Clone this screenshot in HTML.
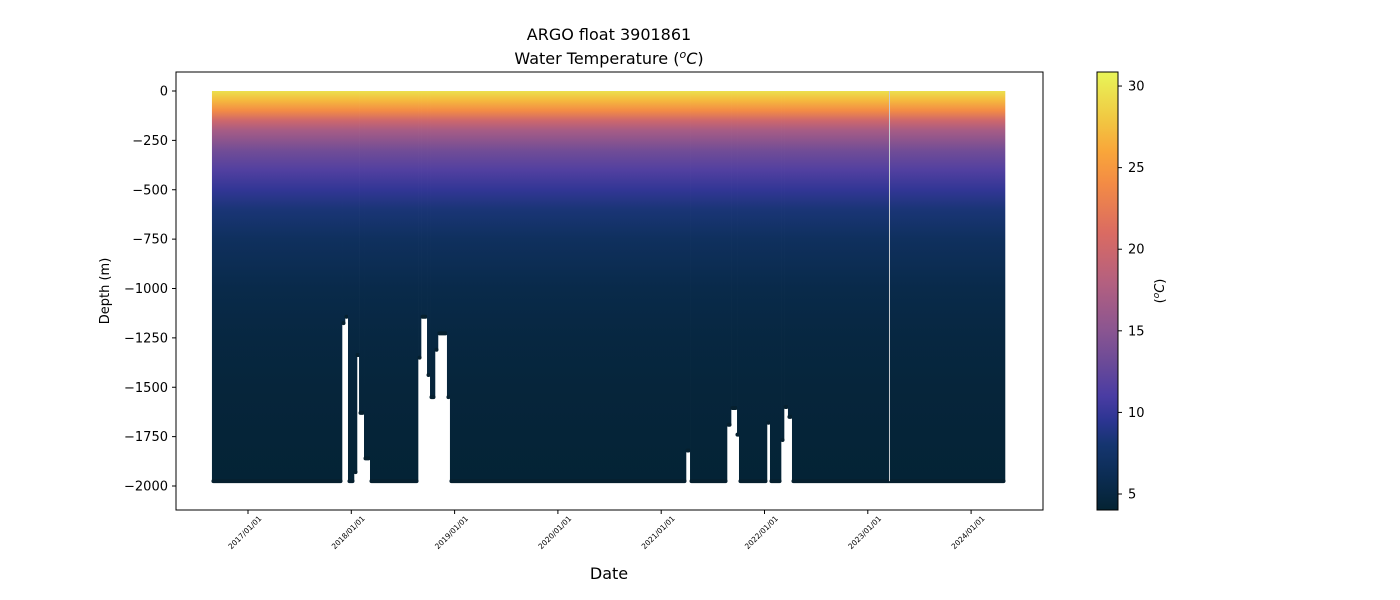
<!DOCTYPE html>
<html><head><meta charset="utf-8">
<style>
body{margin:0;background:#fff;}
svg{display:block;font-family:"DejaVu Sans","Liberation Sans",sans-serif;}
</style></head>
<body>
<svg id="chart" width="1400" height="600" viewBox="0 0 1400 600">
<defs id="defs"></defs>
<text x="609" y="40" text-anchor="middle" font-size="16">ARGO float 3901861</text>
<text x="609" y="64" text-anchor="middle" font-size="16">Water Temperature (<tspan font-style="italic" font-size="11" dy="-6">o</tspan><tspan font-style="italic" dy="6">C</tspan>)</text>
<g id="plot"></g>
<rect x="176" y="72" width="867" height="438" fill="none" stroke="#000" stroke-width="1"/>
<g id="yaxis"></g>
<g id="xaxis"></g>
<text x="609" y="579" text-anchor="middle" font-size="16">Date</text>
<text transform="translate(109,291) rotate(-90)" text-anchor="middle" font-size="13">Depth (m)</text>
<g id="cbar"></g>
<text transform="translate(1164,291) rotate(-90)" text-anchor="middle" font-size="13">(<tspan font-style="italic" font-size="9" dy="-5">o</tspan><tspan font-style="italic" dy="5">C</tspan>)</text>
</svg>
<script>
// ---- data ----
const segStart = [2016.651,2017.910,2017.939,2017.968,2018.026,2018.055,2018.075,2018.123,2018.181,2018.646,2018.675,2018.733,2018.762,2018.810,2018.839,2018.926,2018.955,2021.240,2021.279,2021.637,2021.676,2021.734,2021.753,2022.024,2022.053,2022.160,2022.189,2022.227,2022.266];
const segEnd   = [2017.910,2017.939,2017.968,2018.026,2018.055,2018.075,2018.123,2018.181,2018.646,2018.675,2018.733,2018.762,2018.810,2018.839,2018.926,2018.955,2021.240,2021.279,2021.637,2021.676,2021.734,2021.753,2022.024,2022.053,2022.160,2022.189,2022.227,2022.266,2024.328];
const segMaxDepth = [1975,1175,1143,1975,1930,1337,1630,1860,1975,1350,1143,1438,1550,1310,1227,1550,1975,1820,1975,1690,1605,1740,1975,1680,1975,1767,1600,1650,1975];
const profileDepths = [0,20,50,100,150,200,300,400,500,600,750,1000,1250,1500,2000];
const profileTemps  = [29.5,28.5,27,24,20,17,13.5,11.5,9.8,8.3,6.8,5.5,4.9,4.5,4.1];
const yTicks = [0,-250,-500,-750,-1000,-1250,-1500,-1750,-2000];
const xTickYears = [2017,2018,2019,2020,2021,2022,2023,2024];
const xTickLabels = ["2017/01/01","2018/01/01","2019/01/01","2020/01/01","2021/01/01","2022/01/01","2023/01/01","2024/01/01"];
const cbTicks = [5,10,15,20,25,30];
const dataGapYear = 2023.21;

// ---- scales ----
const NS="http://www.w3.org/2000/svg";
const x = yr => 248 + (yr-2017)*103.3;
const y = d => 91 + d*0.1975;
const cbMin=4.02, cbMax=30.86;
const cy = t => 510 - (t-cbMin)/(cbMax-cbMin)*438;
const cmapT=[4,6,8,9.5,11,13,15,18,21,24,26,28,30.86];
const cmapC=["#042333","#0b2c52","#15356f","#2c3592","#4a3ca3","#6a4a98","#8a5591","#b4607f","#da6b62","#f38b45","#f9a63a","#f1c842","#e8f558"];
function hex(h){return [1,3,5].map(i=>parseInt(h.substr(i,2),16));}
function color(t){
  if(t<=cmapT[0])return cmapC[0];
  for(let i=1;i<cmapT.length;i++){ if(t<=cmapT[i]){const f=(t-cmapT[i-1])/(cmapT[i]-cmapT[i-1]);const a=hex(cmapC[i-1]),b=hex(cmapC[i]);return "rgb("+a.map((v,k)=>Math.round(v+(b[k]-v)*f)).join(",")+")";}}
  return cmapC[cmapC.length-1];
}
function mk(tag,attrs,parent){const e=document.createElementNS(NS,tag);for(const k in attrs)e.setAttribute(k,attrs[k]);parent.appendChild(e);return e;}
const defs=document.getElementById('defs');

const g=mk('linearGradient',{id:'prof',gradientUnits:'userSpaceOnUse',x1:0,x2:0,y1:y(0),y2:y(2000)},defs);
profileDepths.forEach((d,i)=>mk('stop',{offset:d/2000,'stop-color':color(profileTemps[i])},g));
const cg=mk('linearGradient',{id:'cbg',x1:0,x2:0,y1:1,y2:0},defs);
cmapT.forEach((t,i)=>mk('stop',{offset:(t-cbMin)/(cbMax-cbMin),'stop-color':cmapC[i]},cg));

const plot=document.getElementById('plot');
segStart.forEach((s,i)=>{
  const r=mk('rect',{x:x(s),y:y(0),width:Math.max(0.5,x(segEnd[i])-x(s)+0.3),height:y(segMaxDepth[i])-y(0),fill:'url(#prof)'},plot);
  
  
  const c=mk('line',{x1:x(s)+1.5,x2:x(segEnd[i])-1.5,y1:y(segMaxDepth[i]),y2:y(segMaxDepth[i]),stroke:'#06202f','stroke-width':4,'stroke-linecap':'round'},plot);
  
  
});
const gl=mk('line',{x1:x(dataGapYear),x2:x(dataGapYear),y1:y(0),y2:y(1975),stroke:'#c8ccd0','stroke-width':1},plot);



const ya=document.getElementById('yaxis');
yTicks.forEach(v=>{
  const yy=y(-v);
  mk('line',{x1:172,x2:176,y1:yy,y2:yy,stroke:'#000'},ya);
  const t=mk('text',{x:168,y:yy+4.5,'text-anchor':'end','font-size':13},ya);
  t.textContent=String(v).replace('-','\u2212');
  
  
});
const xa=document.getElementById('xaxis');
xTickYears.forEach((yr,i)=>{
  const xx=x(yr);
  mk('line',{x1:xx,x2:xx,y1:510,y2:514,stroke:'#000'},xa);
  const t=mk('text',{transform:`translate(${xx+14},${519}) rotate(-45)`,'text-anchor':'end','font-size':7.5},xa);
  t.textContent=xTickLabels[i];
  
  
});
const cb=document.getElementById('cbar');
mk('rect',{x:1097,y:72,width:21,height:438,fill:'url(#cbg)',stroke:'#000','stroke-width':1},cb);
cbTicks.forEach(v=>{
  const yy=cy(v);
  mk('line',{x1:1118,x2:1122,y1:yy,y2:yy,stroke:'#000'},cb);
  const t=mk('text',{x:1128,y:yy+4.5,'font-size':13},cb);
  t.textContent=v;
  
  
});
</script>
</body></html>
